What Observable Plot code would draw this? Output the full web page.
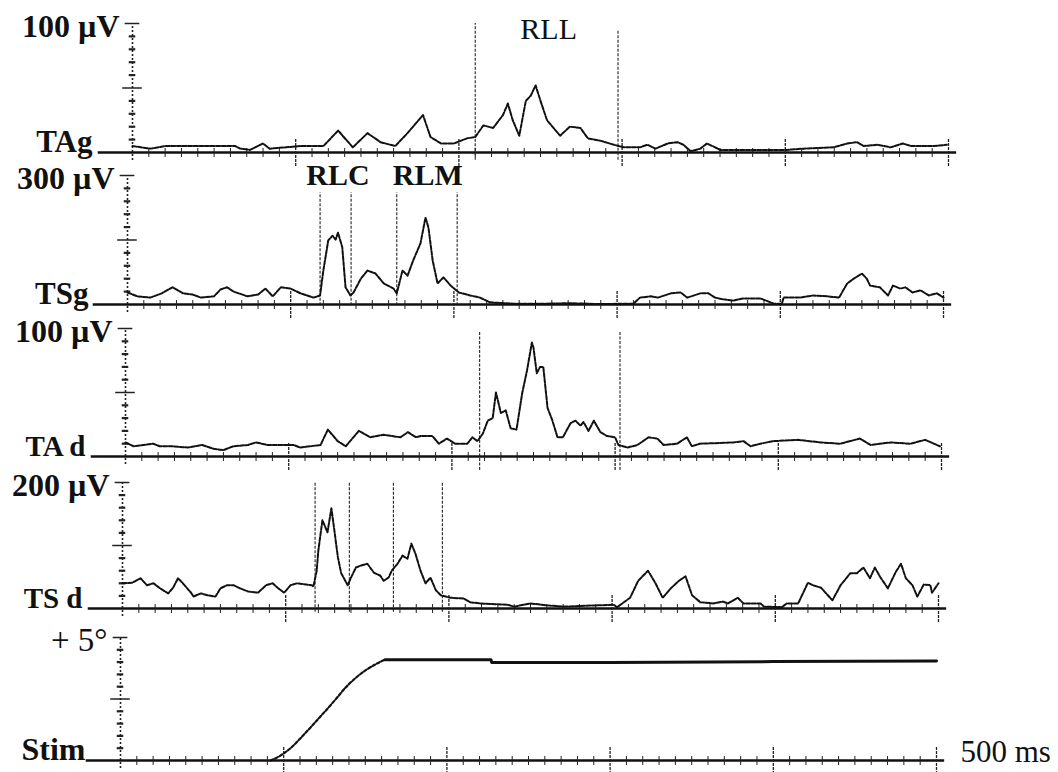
<!DOCTYPE html>
<html>
<head>
<meta charset="utf-8">
<script src="https://cdn.jsdelivr.net/npm/d3@7"></script>
<script src="https://cdn.jsdelivr.net/npm/@observablehq/plot@0.6"></script>
<style>
  html, body { margin: 0; padding: 0; background: #fff; }
  #wrap { position: relative; width: 1058px; height: 772px; overflow: hidden; background: #fff; }
  #wrap svg { position: absolute; left: 0; }
</style>
</head>
<body>
<div id="wrap"></div>
<script>
// ---------- DATA (time in ms, values in µV or degrees) ----------
const panelNames = ["TAg", "TSg", "TA d", "TS d", "Stim"];
const unitLabels = ["100 µV", "300 µV", "100 µV", "200 µV", "+ 5°"];
const fullScales = [100, 300, 100, 200, 5];
const majorTicksMs = [100, 200, 300, 400, 500];
const endLabel = "500 ms";

const tTAg = [0, 11, 20, 63, 66, 72, 80, 84, 94, 103, 117,
  126, 135, 144, 152, 161, 168.5, 178, 182.6, 189, 197, 205, 210, 215, 221, 227, 230, 233, 237, 241, 244, 247, 250, 254, 262, 268, 274.5, 279, 287, 295, 301, 311, 315.5, 320.5, 328, 334, 337.6, 342, 348, 352, 357, 360, 389, 401, 411, 429.5, 438, 444, 448, 456.5, 464.5, 472, 477, 491, 499];
const vTAg = [5, 3, 5, 5, 3, 2, 7, 3, 4, 5, 5,
  17, 4, 15, 8, 5, 15, 29, 12, 7, 7, 11, 12, 21, 19, 29, 38, 25, 13, 40, 44, 52, 40, 25, 13, 20, 19, 11, 9, 6, 4, 4, 6, 3, 7, 8, 6, 1, 3, 7, 4, 2, 2, 2, 3, 4, 7, 8, 5, 6, 4, 7, 5, 5, 6];

const tTSg = [0, 6, 14, 21, 27.6, 34, 40, 45, 53, 57, 61, 65, 73.5, 80, 84.5, 89, 94, 100, 106, 114,
  118, 120, 123, 125.6, 127.5, 129, 131.6, 133.6, 136.6, 138.5, 143, 147, 152, 157, 163, 165, 168.5, 171.6, 175, 179.5,
  182.6, 184.4, 187, 190, 193.6, 198, 203, 210, 216, 222, 236.5, 257, 271, 290, 310, 314, 320.5, 325, 333, 339,
  343, 351, 356, 360, 365, 371, 377, 388, 396, 401, 402, 412, 420, 429, 436, 441, 445, 450, 453, 455,
  461, 466, 469, 473.6, 476.7, 481, 486, 491, 496, 500];
const vTSg = [28, 19, 16, 26, 40, 26, 23, 16, 19, 35, 40, 30, 19, 23, 37, 19, 40, 37, 26, 16,
  21, 79, 149, 160, 151, 167, 133, 40, 21, 28, 60, 79, 72, 49, 37, 26, 79, 67, 102, 142,
  202, 179, 102, 49, 63, 44, 28, 21, 16, 5, 2, 2, 3, 1, 2, 16, 19, 16, 26, 28,
  16, 26, 26, 16, 12, 9, 14, 14, 2, 2, 16, 16, 21, 19, 16, 49, 60, 72, 60, 44,
  40, 21, 44, 37, 40, 28, 33, 21, 26, 16];

const tTAd = [0, 5, 11, 17, 21, 29, 38, 47, 54, 60, 66, 75, 80, 87, 103, 107, 119.5, 124, 130, 135,
  143, 150, 158, 168.5, 173, 178, 181, 188, 192, 197, 202, 209.5, 212.6, 215.7, 219, 222, 225, 227, 230, 233,
  236, 239.6, 243, 246, 249, 250, 252, 254, 256, 258.6, 261.6, 264.7, 268, 272.7, 275.7, 278.8, 280.6, 283.7, 287, 291,
  295, 300, 302, 307.6, 313.7, 320.5, 326, 329.7, 338, 344, 347, 352, 372.5, 378.7, 383, 389, 397, 412, 426, 438,
  450, 456.5, 469, 481, 490, 499];
const vTAd = [11, 8, 9, 10, 8, 8, 7, 9, 6, 5, 8, 9, 11, 9, 9, 7, 9, 21, 12, 8,
  20, 15, 17, 15, 19, 15, 16, 16, 10, 14, 10, 10, 15, 12, 18, 28, 30, 50, 34, 36,
  22, 21, 49, 67, 89, 85, 65, 70, 70, 38, 28, 15, 15, 26, 28, 24, 27, 20, 28, 19,
  16, 15, 9, 7, 9, 15, 14, 9, 10, 15, 8, 10, 11, 12, 8, 10, 12, 13, 11, 10,
  14, 9, 11, 10, 13, 8];

const tTSd = [0, 6, 11, 15, 19, 23, 28, 31, 34, 37, 42, 43.5, 48, 52, 57, 60, 64, 68, 72, 77,
  83, 88, 92, 95, 99, 103, 107, 116, 117, 119, 120, 122.5, 125.6, 128, 129, 132, 134, 138, 140, 143,
  146, 150, 154, 158, 160, 163, 165, 168.5, 171.6, 174.6, 177, 179.5, 182.6, 185.7, 188.7, 192, 195, 201, 209, 213,
  219, 236, 240, 250, 260, 270, 291, 301, 303, 311, 316, 322, 326.6, 331, 336, 341, 345, 349, 354, 362,
  368, 371, 377, 380.5, 391, 393, 404, 407, 414, 420, 423, 428, 435, 440, 446, 450, 454, 458, 461, 464.5,
  469, 473.6, 477, 480, 484, 487, 491, 495, 496, 500];
const vTSd = [40, 41, 48, 37, 40, 32, 24, 33, 48, 40, 25, 19, 24, 21, 19, 32, 37, 37, 32, 27,
  25, 37, 40, 33, 25, 37, 40, 37, 35, 60, 92, 140, 121, 159, 140, 81, 56, 37, 49, 65,
  68, 71, 57, 52, 44, 49, 60, 71, 84, 79, 103, 87, 60, 40, 49, 29, 21, 17, 16, 10,
  8, 6, 3, 8, 5, 3, 5, 6, 2, 17, 44, 60, 40, 17, 32, 44, 51, 21, 10, 8,
  11, 8, 17, 8, 8, 3, 2, 8, 8, 41, 37, 33, 13, 37, 56, 56, 65, 48, 65, 49,
  32, 57, 71, 48, 37, 19, 38, 37, 25, 40];

const tStimRamp = [92, 98, 104, 113, 122, 132, 138, 144, 150, 156, 162];
const vStimRamp = [0, 0.2, 0.49, 1.1, 1.75, 2.5, 2.97, 3.35, 3.66, 3.9, 4.1];
const tStimHold = [162, 227, 227.5, 300, 400, 500];
const vStimHold = [4.1, 4.1, 3.98, 3.98, 4.02, 4.04];

// response-window markers (ms) and their labels
const markTAg = [210, 297.5];
const markTAgTop = [100, 95];
const markTSg = [118, 137, 165, 202];
const markTAd = [217, 303];
const markTSd = [118, 139, 166, 196];
const windowLabels = ["RLL", "RLC", "RLM"];
const windowLabelMs = [255, 129, 184];

// ---------- LAYOUT ----------
const serif = "'Liberation Serif', 'Times New Roman', serif";
const zip = (t, v) => t.map((d, i) => ({t: d, v: v[i]}));

const panels = [
  {i: 0, data: zip(tTAg, vTAg), baseline: 152, pxH: 129, originX: 132,
   markers: markTAg.map((m, k) => ({t: m, top: markTAgTop[k], bottom: -6})),
   labels: [{t: windowLabelMs[0], v: 88, text: windowLabels[0], bold: false}]},
  {i: 1, data: zip(tTSg, vTSg), baseline: 304, pxH: 129, originX: 127,
   markers: markTSg.map(m => ({t: m, top: 260, bottom: -3})),
   labels: [{t: windowLabelMs[1], v: 277, text: windowLabels[1], bold: true},
            {t: windowLabelMs[2], v: 277, text: windowLabels[2], bold: true}]},
  {i: 2, data: zip(tTAd, vTAd), baseline: 456, pxH: 128, originX: 125,
   markers: markTAd.map(m => ({t: m, top: 98, bottom: -11})), labels: []},
  {i: 3, data: zip(tTSd, vTSd), baseline: 608, pxH: 126, originX: 122,
   markers: markTSd.map(m => ({t: m, top: 200, bottom: -6})), labels: []},
  {i: 4, data: null, baseline: 760, pxH: 123, originX: 120, markers: [], labels: []}
];

const nameFont = [31, 31, 29, 29, 32];
const nameDx = [-40, -39, -40, -40, -35];
const unitFont = [32, 32, 32, 32, 33];

const wrap = document.getElementById("wrap");
const MT = 40, MB = 24;

for (const p of panels) {
  const full = fullScales[p.i];
  const u = full / p.pxH; // data units per pixel
  const height = MT + p.pxH + MB;
  const minorMs = d3.range(0, 501, 10).filter(d => d % 100 !== 0);
  const yMinor = d3.range(1, 10).filter(k => k !== 5).map(k => k * full / 10);
  const marks = [
    Plot.ruleY([0], {x1: -21, x2: 505, stroke: "#111", strokeWidth: 2.6}),
    Plot.ruleX(minorMs, {y1: -5 * u, y2: 4 * u, stroke: "#222", strokeWidth: 1}),
    Plot.ruleX(majorTicksMs, {y1: -14 * u, y2: 13 * u, stroke: "#222", strokeWidth: 1.3, strokeDasharray: "3 1"}),
    Plot.ruleX([0], {y1: -8 * u, y2: full, stroke: "#222", strokeWidth: 1.6, strokeDasharray: "2 2"}),
    Plot.ruleY(yMinor, {x1: -2, x2: 2, stroke: "#222", strokeWidth: 2.2}),
    Plot.ruleY([full / 2], {x1: -6, x2: 6, stroke: "#222", strokeWidth: 1.5}),
    Plot.ruleY([full], {x1: -4.5, x2: 4.5, stroke: "#222", strokeWidth: 1.5}),
    Plot.text([unitLabels[p.i]], {x: () => 0, y: () => full, text: d => d, dx: -13, dy: 3,
      textAnchor: "end", lineAnchor: "middle", fontSize: unitFont[p.i], fontFamily: serif,
      fontWeight: p.i === 4 ? "normal" : "bold", fill: "#111"}),
    Plot.text([panelNames[p.i]], {x: () => 0, y: () => 0, text: d => d, dx: nameDx[p.i], dy: -1,
      textAnchor: "end", lineAnchor: "bottom", fontSize: nameFont[p.i], fontFamily: serif,
      fontWeight: "bold", fill: "#111"})
  ];
  if (p.markers.length) {
    marks.push(Plot.ruleX(p.markers, {x: "t", y1: "bottom", y2: "top", stroke: "#222",
      strokeWidth: 1.1, strokeDasharray: "3 1.5"}));
  }
  for (const l of p.labels) {
    marks.push(Plot.text([l], {x: "t", y: "v", text: "text", textAnchor: "middle", lineAnchor: "bottom",
      fontSize: 30, fontFamily: serif, fontWeight: l.bold ? "bold" : "normal", fill: "#111"}));
  }
  if (p.data) {
    marks.push(Plot.line(p.data, {x: "t", y: "v", stroke: "#111", strokeWidth: 2,
      strokeDasharray: "4 1.6", curve: "linear"}));
  } else {
    marks.push(Plot.line(zip(tStimRamp, vStimRamp), {x: "t", y: "v", stroke: "#111",
      strokeWidth: 2.2, strokeDasharray: "3 2", curve: "monotone-x"}));
    marks.push(Plot.line(zip(tStimHold, vStimHold), {x: "t", y: "v", stroke: "#111",
      strokeWidth: 3}));
    marks.push(Plot.text([endLabel], {x: () => 500, y: () => 0, text: d => d, dx: 24, dy: 1,
      textAnchor: "start", lineAnchor: "bottom", fontSize: 31, fontFamily: serif, fill: "#111"}));
  }
  const svg = Plot.plot({
    width: 1058, height,
    marginTop: MT, marginBottom: MB,
    marginLeft: p.originX, marginRight: 1058 - p.originX - 816,
    x: {domain: [0, 500], range: [p.originX, p.originX + 816], axis: null},
    y: {domain: [0, full], range: [MT + p.pxH, MT], axis: null},
    style: {background: "transparent", overflow: "visible"},
    marks
  });
  svg.style.top = (p.baseline - p.pxH - MT) + "px";
  wrap.appendChild(svg);
}
</script>
</body>
</html>
